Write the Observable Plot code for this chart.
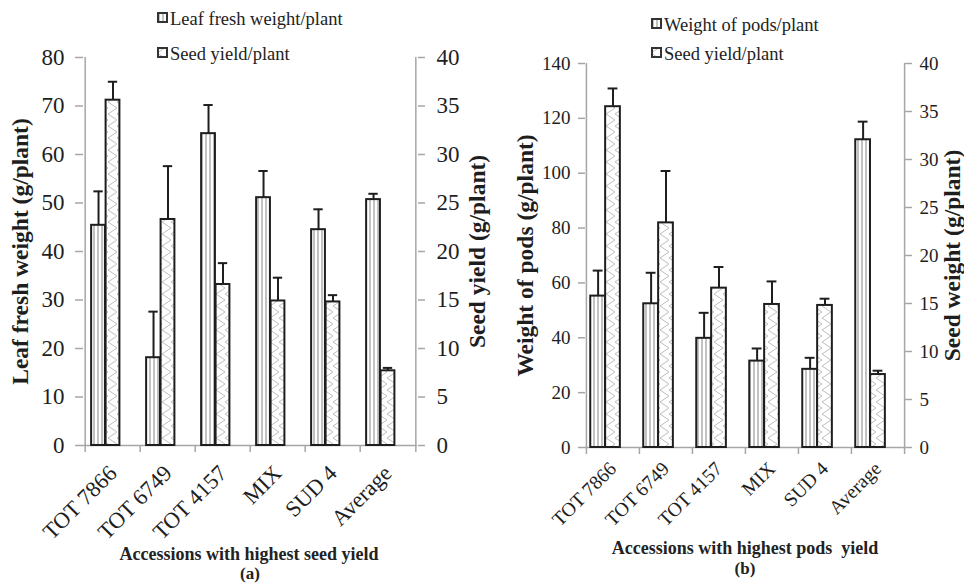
<!DOCTYPE html>
<html>
<head>
<meta charset="utf-8">
<script src="https://cdn.jsdelivr.net/npm/d3@7"></script>
<script src="https://cdn.jsdelivr.net/npm/@observablehq/plot@0.6"></script>
<style>
  body { margin: 0; background: #fff; }
  #root { position: relative; width: 964px; height: 584px; overflow: hidden; background: #fff; font-family: "Liberation Serif", "Times New Roman", serif; color: #222; }
  .panel { position: absolute; top: 0; }
  .panel svg { overflow: visible; }
  .legend { position: absolute; font-size: 18.5px; line-height: 18px; white-space: nowrap; color: #222; }
  .legend svg { vertical-align: top; margin-right: 2px; margin-top: 2px; overflow: visible; }
  .xtitle { position: absolute; font-weight: bold; font-size: 18px; line-height: 18px; text-align: center; white-space: nowrap; color: #222; }
  .xtitle.sub { font-size: 17px; line-height: 17px; }
</style>
</head>
<body>
<div id="root"></div>
<script>
// ---------- data ----------
const categories = ["TOT 7866", "TOT 6749", "TOT 4157", "MIX", "SUD 4", "Average"];

// panel (a)
const leafFreshWeight    = [45.4, 18.1, 64.3, 51.1, 44.5, 50.7];
const leafFreshWeightErr = [7.0, 9.5, 5.9, 5.5, 4.2, 1.2];
const seedYieldA         = [35.6, 23.3, 16.6, 14.9, 14.8, 7.7];
const seedYieldAErr      = [1.9, 5.5, 2.2, 2.4, 0.7, 0.3];

// panel (b)
const podsWeight    = [55.2, 52.4, 39.8, 31.5, 28.5, 112.2];
const podsWeightErr = [9.3, 11.3, 9.3, 4.6, 4.2, 6.6];
const seedYieldB    = [35.5, 23.4, 16.6, 14.9, 14.8, 7.6];
const seedYieldBErr = [1.9, 5.4, 2.2, 2.4, 0.7, 0.4];

const leftTicksA  = [0, 10, 20, 30, 40, 50, 60, 70, 80];
const leftTicksB  = [0, 20, 40, 60, 80, 100, 120, 140];
const rightTicks  = [0, 5, 10, 15, 20, 25, 30, 35, 40];

const AXIS = "#a6a6a6";
const INK = "#1e1e1e";
const SERIF = '"Liberation Serif", "Times New Roman", serif';

function panel(cfg) {
  const {id, width, height, marginLeft, marginRight, marginTop, marginBottom,
         leftMax, leftTicks, leftVals, leftErr, rightVals, rightErr,
         leftLabel, rightLabel, tickFont, xFont, labelFont,
         leftTickSize, leftPad, rightPad, leftLabelDx, rightLabelDx, xPad, barFrac} = cfg;
  const factor = leftMax / 40;
  const rows = categories.map((c, i) => ({
    cat: c, v: leftVals[i], e: leftErr[i],
    s: rightVals[i] * factor, se: rightErr[i] * factor
  }));
  const bw = (width - marginLeft - marginRight) / categories.length;
  const w = bw * barFrac;

  const defs = () => {
    const d = d3.create("svg:defs");
    const st = d.append("pattern").attr("id", `stripes-${id}`).attr("patternUnits", "userSpaceOnUse")
      .attr("width", 4).attr("height", 4);
    st.append("rect").attr("width", 4).attr("height", 4).attr("fill", "#fff");
    st.append("rect").attr("x", 1.2).attr("width", 1.6).attr("height", 4).attr("fill", "#b4b4b4");
    const h = d.append("pattern").attr("id", `hatch-${id}`).attr("patternUnits", "userSpaceOnUse")
      .attr("width", 9).attr("height", 12);
    h.append("rect").attr("width", 9).attr("height", 12).attr("fill", "#fff");
    h.append("path").attr("d", "M9,0 L0,6 L9,12").attr("fill", "none").attr("stroke", "#bdbdbd").attr("stroke-width", 1);
    return d.node();
  };

  return Plot.plot({
    width, height, marginLeft, marginRight, marginTop, marginBottom,
    style: {fontFamily: SERIF, color: INK, background: "transparent"},
    x: {type: "band", domain: categories, padding: 0},
    y: {domain: [0, leftMax]},
    marks: [
      defs,
      // baseline
      Plot.ruleY([0], {stroke: AXIS, strokeWidth: 1.5}),
      // left & right axis lines (extend below as outer category ticks)
      Plot.ruleX([categories[0]], {x: d => d, dx: -bw / 2, y1: leftMax, y2: 0, insetBottom: -7, stroke: AXIS, strokeWidth: 1.5}),
      Plot.ruleX([categories[categories.length - 1]], {x: d => d, dx: bw / 2, y1: leftMax, y2: 0, insetBottom: -7, stroke: AXIS, strokeWidth: 1.5}),
      // inner category boundary ticks
      Plot.ruleX(categories.slice(1), {x: d => d, dx: -bw / 2, y1: 0, y2: 0, insetBottom: -7, stroke: AXIS, strokeWidth: 1.5}),
      // left axis
      Plot.axisY(leftTicks, {anchor: "left", tickSize: leftTickSize, tickPadding: leftPad, stroke: AXIS, fill: INK,
        fontSize: tickFont, fontFamily: SERIF, label: null, strokeWidth: 1.5}),
      // right axis (secondary, mapped onto primary scale)
      Plot.axisY(rightTicks.map(t => t * factor), {anchor: "right", tickSize: 7, tickPadding: rightPad, stroke: AXIS, fill: INK,
        fontSize: tickFont, fontFamily: SERIF, label: null, strokeWidth: 1.5, tickFormat: d => String(Math.round(d / factor))}),
      // category labels
      Plot.axisX({anchor: "bottom", tickSize: 0, tickPadding: xPad, tickRotate: -45, fontSize: xFont, fontFamily: SERIF, label: null, fill: INK}),
      // bars
      Plot.barY(rows, {x: "cat", y: "v", fill: `url(#stripes-${id})`, stroke: INK, strokeWidth: 2,
        insetLeft: bw / 2 - 1.5 * w, insetRight: bw / 2 + 0.5 * w}),
      Plot.barY(rows, {x: "cat", y: "s", fill: `url(#hatch-${id})`, stroke: INK, strokeWidth: 2,
        insetLeft: bw / 2 - 0.5 * w, insetRight: bw / 2 - 0.5 * w}),
      // error bars
      Plot.ruleX(rows, {x: "cat", y1: "v", y2: d => d.v + d.e, dx: -w, stroke: INK, strokeWidth: 2}),
      Plot.tickY(rows, {x: "cat", y: d => d.v + d.e, dx: -w, insetLeft: bw / 2 - 5, insetRight: bw / 2 - 5, stroke: INK, strokeWidth: 2}),
      Plot.ruleX(rows, {x: "cat", y1: "s", y2: d => d.s + d.se, stroke: INK, strokeWidth: 2}),
      Plot.tickY(rows, {x: "cat", y: d => d.s + d.se, insetLeft: bw / 2 - 5, insetRight: bw / 2 - 5, stroke: INK, strokeWidth: 2}),
      // axis titles
      Plot.text([leftLabel], {text: d => d, frameAnchor: "left", textAnchor: "middle", lineAnchor: "middle", rotate: -90, dx: leftLabelDx,
        fontWeight: "bold", fontSize: labelFont, fontFamily: SERIF, fill: INK}),
      Plot.text([rightLabel], {text: d => d, frameAnchor: "right", textAnchor: "middle", lineAnchor: "middle", rotate: -90, dx: rightLabelDx,
        fontWeight: "bold", fontSize: labelFont, fontFamily: SERIF, fill: INK})
    ]
  });
}

function swatch(kind, id) {
  return `<svg width="11" height="11"><rect x="1" y="1" width="9" height="9" fill="url(#${kind}-${id})" stroke="#333" stroke-width="2"/></svg>`;
}

const root = document.getElementById("root");

// ---------- panel (a) ----------
const pa = document.createElement("div");
pa.className = "panel"; pa.style.left = "0px";
pa.append(panel({
  id: "a", width: 480, height: 584, marginLeft: 83, marginRight: 63, marginTop: 57, marginBottom: 139,
  leftMax: 80, leftTicks: leftTicksA, leftVals: leafFreshWeight, leftErr: leafFreshWeightErr,
  rightVals: seedYieldA, rightErr: seedYieldAErr,
  leftLabel: "Leaf fresh weight (g/plant)", rightLabel: "Seed yield (g/plant)",
  tickFont: 23, xFont: 22.5, labelFont: 23.5, leftTickSize: 8, leftPad: 11, rightPad: 12,
  leftLabelDx: -63, rightLabelDx: 60, xPad: 24, barFrac: 0.26
}));
root.append(pa);

// ---------- panel (b) ----------
const pb = document.createElement("div");
pb.className = "panel"; pb.style.left = "480px";
pb.append(panel({
  id: "b", width: 484, height: 584, marginLeft: 105, marginRight: 60, marginTop: 63, marginBottom: 137,
  leftMax: 140, leftTicks: leftTicksB, leftVals: podsWeight, leftErr: podsWeightErr,
  rightVals: seedYieldB, rightErr: seedYieldBErr,
  leftLabel: "Weight of pods (g/plant)", rightLabel: "Seed weight (g/plant)",
  tickFont: 19, xFont: 19.5, labelFont: 23.5, leftTickSize: 7, leftPad: 8, rightPad: 8,
  leftLabelDx: -60, rightLabelDx: 48, xPad: 18, barFrac: 0.28
}));
root.append(pb);

// ---------- legends & x titles ----------
function addLegend(left, top, kind, id, text) {
  const d = document.createElement("div");
  d.className = "legend";
  d.style.left = left + "px"; d.style.top = top + "px";
  d.innerHTML = swatch(kind, id) + text;
  root.append(d);
}
addLegend(157, 10, "stripes", "a", "Leaf fresh weight/plant");
addLegend(157, 45, "hatch", "a", "Seed yield/plant");
addLegend(651, 16, "stripes", "b", "Weight of pods/plant");
addLegend(651, 45, "hatch", "b", "Seed yield/plant");

function addTitle(cx, top, text, sub) {
  const d = document.createElement("div");
  d.className = sub ? "xtitle sub" : "xtitle";
  d.style.left = (cx - 200) + "px"; d.style.width = "400px"; d.style.top = top + "px";
  d.textContent = text;
  root.append(d);
}
addTitle(249, 545, "Accessions with highest seed yield");
addTitle(250, 565, "(a)", true);
addTitle(745, 539, "Accessions with highest pods\u00a0 yield");
addTitle(745, 560, "(b)", true);
</script>
</body>
</html>
